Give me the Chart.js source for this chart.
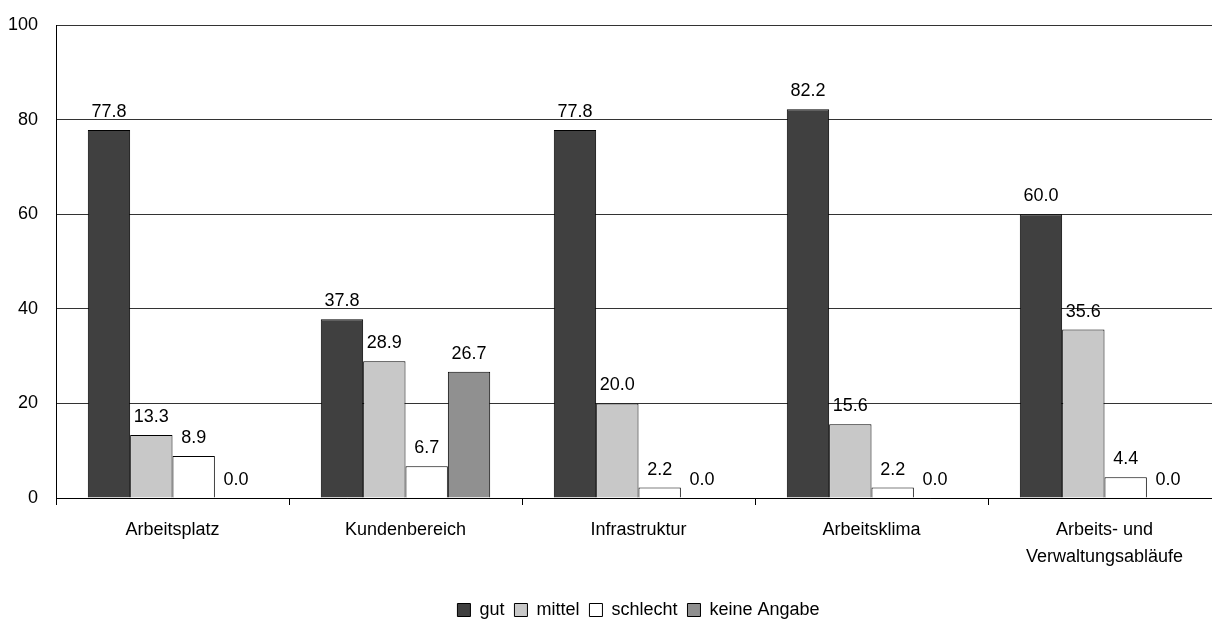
<!DOCTYPE html>
<html lang="de">
<head>
    <meta charset="UTF-8">
    <title>Bewertung</title>
    <style>
        body, html {
            margin: 0;
            padding: 0;
            background: #fff;
            overflow: hidden;
        }
        .chart-box {
            width: 1276px;
            height: 622px;
        }
    </style>
</head>
<body>
    <div class="chart-box">
        <canvas id="chart" width="1276" height="622"></canvas>
    </div>

    <script src="https://cdn.jsdelivr.net/npm/chart.js"></script>
    <script>
        // data
        const categories = ['Arbeitsplatz', 'Kundenbereich', 'Infrastruktur', 'Arbeitsklima', ['Arbeits- und', 'Verwaltungsabläufe']];
        const seriesNames = ['gut', 'mittel', 'schlecht', 'keine Angabe'];
        const gut = [77.8, 37.8, 77.8, 82.2, 60.0];
        const mittel = [13.3, 28.9, 20.0, 15.6, 35.6];
        const schlecht = [8.9, 6.7, 2.2, 2.2, 4.4];
        const keineAngabe = [0.0, 26.7, 0.0, 0.0, 0.0];
        const yTicks = [0, 20, 40, 60, 80, 100];

        const colors = ['#404040', '#c8c8c8', '#ffffff', '#909090'];
        const values = [gut, mittel, schlecht, keineAngabe];

        Chart.defaults.font.family = '"Liberation Sans", Arial, sans-serif';
        Chart.defaults.font.size = 18;
        Chart.defaults.color = '#000';

        // value labels above every bar
        const valueLabels = {
            id: 'valueLabels',
            afterDatasetsDraw(chart) {
                const ctx = chart.ctx;
                ctx.save();
                ctx.font = '18px "Liberation Sans", Arial, sans-serif';
                ctx.fillStyle = '#000';
                ctx.textAlign = 'center';
                ctx.textBaseline = 'alphabetic';
                chart.data.datasets.forEach((ds, i) => {
                    chart.getDatasetMeta(i).data.forEach((bar, j) => {
                        ctx.fillText(ds.data[j].toFixed(1), bar.x, bar.y - 13);
                    });
                });
                ctx.restore();
            }
        };

        // legend sits centred under the plot area, a bit lower than default
        const legendShift = {
            id: 'legendShift',
            afterLayout(chart) {
                const lg = chart.legend;
                lg.left = chart.chartArea.left;
                lg.right = chart.chartArea.right;
                lg.top += 7;
                lg.bottom += 7;
            }
        };

        const ctx = document.getElementById('chart').getContext('2d');
        const chart = new Chart(ctx, {
            type: 'bar',
            data: {
                labels: categories,
                datasets: seriesNames.map((name, i) => ({
                    label: name,
                    data: values[i],
                    backgroundColor: colors[i],
                    borderColor: '#000',
                    borderWidth: 1,
                    borderSkipped: 'start',
                    categoryPercentage: 0.727,
                    barPercentage: 1
                }))
            },
            options: {
                responsive: false,
                animation: false,
                devicePixelRatio: 1,
                layout: {
                    padding: { left: 0, right: 55, top: 25, bottom: 0 }
                },
                scales: {
                    x: {
                        grid: {
                            offset: true,
                            drawOnChartArea: false,
                            drawTicks: true,
                            tickLength: 7,
                            color: '#000'
                        },
                        border: { color: '#000', width: 1 },
                        ticks: {
                            padding: 12,
                            maxRotation: 0,
                            autoSkip: false,
                            font: { size: 18, lineHeight: 1.5 }
                        },
                        afterFit(scale) {
                            scale.height = 86;
                        }
                    },
                    y: {
                        min: 0,
                        max: 100,
                        afterBuildTicks(scale) {
                            scale.ticks = yTicks.map(v => ({ value: v }));
                        },
                        grid: {
                            color: '#333',
                            lineWidth: 1,
                            drawTicks: false
                        },
                        border: { color: '#000', width: 1 },
                        ticks: {
                            padding: 18,
                            font: { size: 18 }
                        },
                        afterFit(scale) {
                            scale.width = 56;
                            scale.paddingTop = 0;
                            scale.paddingBottom = 0;
                        }
                    }
                },
                plugins: {
                    legend: {
                        position: 'bottom',
                        labels: {
                            boxWidth: 13,
                            boxHeight: 13,
                            padding: 10,
                            font: { size: 18 }
                        }
                    },
                    tooltip: { enabled: false }
                }
            },
            plugins: [valueLabels, legendShift]
        });
    </script>
</body>
</html>
